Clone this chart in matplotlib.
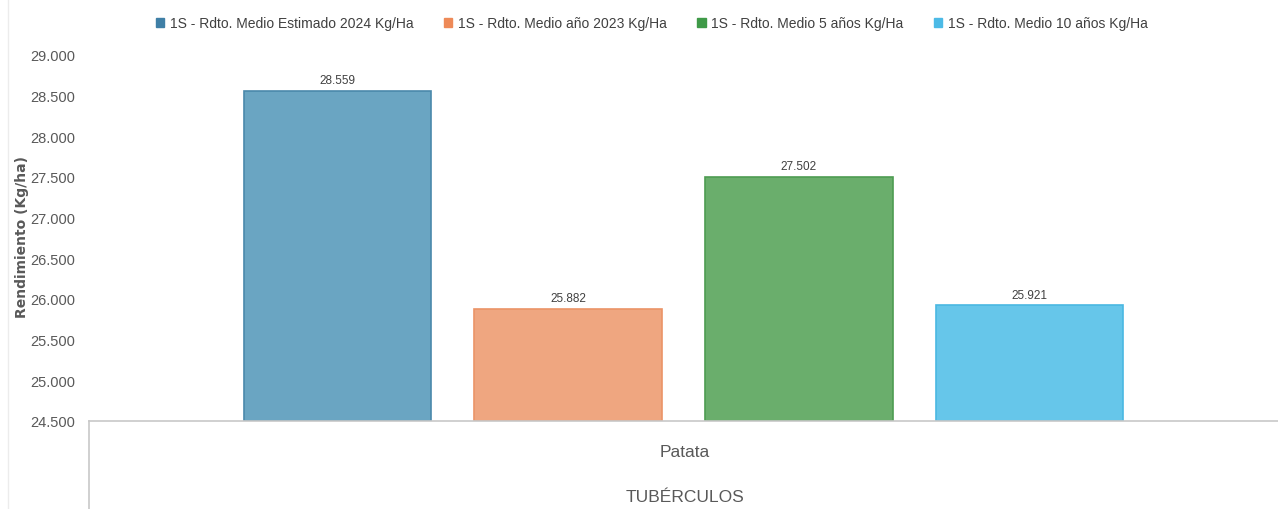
import matplotlib.pyplot as plt
from matplotlib.ticker import FuncFormatter
from matplotlib.lines import Line2D

plt.rcParams['font.family'] = ['Liberation Sans', 'DejaVu Sans']

series = ['1S - Rdto. Medio Estimado 2024 Kg/Ha', '1S - Rdto. Medio año 2023 Kg/Ha',
          '1S - Rdto. Medio 5 años Kg/Ha', '1S - Rdto. Medio 10 años Kg/Ha']
values = [28559, 25882, 27502, 25921]
category = 'Patata'
group = 'TUBÉRCULOS'

face = ['#6aa5c2', '#efa680', '#6aae6c', '#66c6ea']
edge = ['#4a89ab', '#eb9467', '#4e9c52', '#4ab8e2']
legend_col = ['#3f7fa6', '#ee8a58', '#3f9a48', '#4cbae6']

fig = plt.figure(figsize=(12.78, 5.10), dpi=100)
ax = fig.add_axes([89 / 1278, 88 / 510, 1 - 89 / 1278, 366 / 510])

step = 0.194
w = 0.158
for i, v in enumerate(values):
    x = 0.5 + (i - 1.5) * step
    ax.bar(x, v - 24500, bottom=24500, width=w, color=face[i], edgecolor=edge[i], linewidth=1.2)
    ax.text(x, v + 60, f'{v:,}'.replace(',', '.'), ha='center', va='bottom', fontsize=8.5, color='#404040')

ax.set_xlim(0, 1)
ax.set_ylim(24500, 29000)
ax.set_yticks(range(24500, 29001, 500))
ax.yaxis.set_major_formatter(FuncFormatter(lambda v, p: f'{int(v):,}'.replace(',', '.')))
ax.tick_params(axis='y', length=0, labelsize=10.5, labelcolor='#595959', pad=10)
ax.set_xticks([])
for s in ['left', 'right', 'top']:
    ax.spines[s].set_visible(False)
ax.spines['bottom'].set_color('#c8c8c8')
ax.spines['bottom'].set_linewidth(1.2)

fig.text(22 / 1278, 1 - 237 / 510, 'Rendimiento (Kg/ha)', rotation=90, ha='center', va='center',
         fontsize=10, fontweight='bold', color='#595959', family=['DejaVu Sans'])

# category labels below the axis
fig.text(685 / 1278, 1 - 453 / 510, category, ha='center', va='center', fontsize=12.5, color='#595959')
fig.text(685 / 1278, 1 - 498 / 510, group, ha='center', va='center', fontsize=12.5, color='#595959')

# separators
fig.add_artist(Line2D([89 / 1278, 89 / 1278], [0, 88 / 510], color='#c8c8c8', lw=1.2))
fig.add_artist(Line2D([8 / 1278, 8 / 1278], [0, 1], color='#ececec', lw=1.0))

handles = [plt.Rectangle((0, 0), 1, 1, color=c) for c in legend_col]
fig.legend(handles, series, loc='center', bbox_to_anchor=(652 / 1278, 1 - 24 / 510), ncol=4,
           frameon=False, fontsize=10, handlelength=0.6, handleheight=0.6, handletextpad=0.4,
           columnspacing=2.2, labelcolor='#404040')

fig.savefig('out.png', dpi=100)
